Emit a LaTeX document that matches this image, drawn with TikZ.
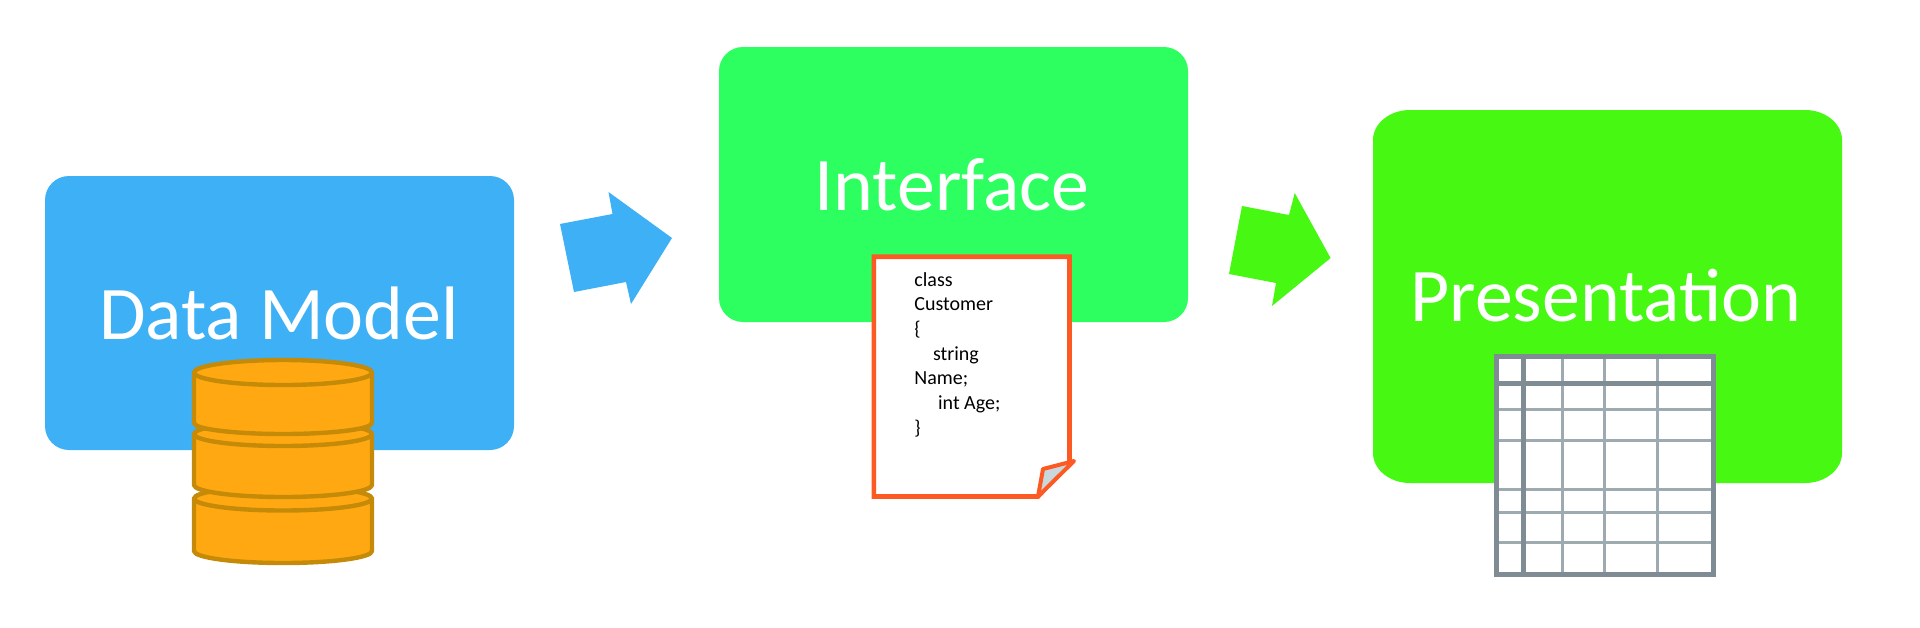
\documentclass[tikz,border=0pt]{standalone}
\usepackage{fontspec}
\setmainfont{Carlito}
\usetikzlibrary{positioning}
\definecolor{modelblue}{HTML}{3EB0F6}
\definecolor{ifacegreen}{HTML}{2CFF5F}
\definecolor{presgreen}{HTML}{46F812}
\definecolor{dbfill}{HTML}{FFA811}
\definecolor{dbline}{HTML}{C48A08}
\definecolor{docline}{HTML}{FC5A22}
\definecolor{foldfill}{HTML}{C8D8DC}
\definecolor{gridthick}{HTML}{7F8C93}
\definecolor{gridthin}{HTML}{9DABB0}
\tikzset{
	box/.style={rounded corners=12pt, inner sep=0pt},
	title/.style={anchor=base, text=white, inner sep=0pt, font=\fontsize{37.9}{45}\selectfont},
	codeline/.style={anchor=base west, text=black, inner sep=0pt, font=\fontsize{10}{12}\selectfont},
	disk/.style={draw=dbline, fill=dbfill, line width=2.2pt, line join=round},
	thickgrid/.style={draw=gridthick, line width=2.5pt},
	thingrid/.style={draw=gridthin, line width=1.5pt}
}
\begin{document}
\begin{tikzpicture}[x=0.5pt, y=-0.5pt]
	\useasboundingbox (0,0) rectangle (1920,627);

	\node[box, fill=modelblue, minimum width=234.5pt, minimum height=137pt] (model) at (279.5,313) {};
	\node[box, fill=ifacegreen, minimum width=234.5pt, minimum height=137.5pt] (iface) at (953.5,184.5) {};
	\fill[presgreen] (1373,140) arc[start angle=180, end angle=270, x radius=37, y radius=30] -- (1805,110)
		arc[start angle=270, end angle=360, x radius=37, y radius=30] -- (1842,453)
		arc[start angle=0, end angle=90, x radius=37, y radius=30] -- (1410,483)
		arc[start angle=90, end angle=180, x radius=37, y radius=30] -- cycle;

	\node[title] (modeltitle) at (279,339) {Data Model};
	\node[title] (ifacetitle) at (952,210) {Interface};
	\node[title] (prestitle) at (1606,321) {Presentation};

	% block arrows
	\fill[modelblue] (560,224) -- (612.5,214) -- (608.5,192) -- (672,238) -- (631,304) -- (626,282) -- (574,292) -- cycle;
	\fill[presgreen] (1242,206) -- (1289,215) -- (1294.7,193) -- (1330.6,258) -- (1272,306) -- (1276,283) -- (1229,274) -- cycle;

	% database
	\draw[disk] (194,498.5) -- (194,551) arc[start angle=180, end angle=0, x radius=89, y radius=12] -- (372,498.5)
		arc[start angle=0, end angle=-180, x radius=89, y radius=12] -- cycle;
	\draw[disk] (194,498.5) arc[start angle=180, end angle=0, x radius=89, y radius=12];
	\draw[disk] (194,434) -- (194,485) arc[start angle=180, end angle=0, x radius=89, y radius=12] -- (372,434)
		arc[start angle=0, end angle=-180, x radius=89, y radius=12] -- cycle;
	\draw[disk] (194,434) arc[start angle=180, end angle=0, x radius=89, y radius=12];
	\draw[disk] (194,372.5) -- (194,423) arc[start angle=180, end angle=0, x radius=89, y radius=11] -- (372,372.5)
		arc[start angle=0, end angle=-180, x radius=89, y radius=12.5] -- cycle;
	\draw[disk] (194,372.5) arc[start angle=180, end angle=0, x radius=89, y radius=12.5];

	% document
	\draw[draw=docline, fill=white, line width=2.3pt] (873.8,256.7) -- (1069.5,256.7) -- (1069.5,463) -- (1038,496.5) -- (873.8,496.5) -- cycle;
	\draw[draw=docline, fill=foldfill, line width=2pt, line join=round] (1043,469) -- (1074,461) -- (1038,496.5) -- cycle;

	\node[codeline] (c1) at (914,286) {class};
	\node[codeline] (c2) at (914,310.5) {Customer};
	\node[codeline] (c3) at (914,335) {\{};
	\node[codeline] (c4) at (932.7,360) {string};
	\node[codeline] (c5) at (914,384) {Name;};
	\node[codeline] (c6) at (937.7,409) {int Age;};
	\node[codeline] (c7) at (914,434) {\}};

	% table
	\fill[white] (1496,356.5) rectangle (1713,574);
	\draw[thingrid] (1562,356.5) -- (1562,574);
	\draw[thingrid] (1604.5,356.5) -- (1604.5,574);
	\draw[thingrid] (1657,356.5) -- (1657,574);
	\draw[thingrid] (1496,409) -- (1713,409);
	\draw[thingrid] (1496,440) -- (1713,440);
	\draw[thingrid] (1496,489) -- (1713,489);
	\draw[thingrid] (1496,512) -- (1713,512);
	\draw[thingrid] (1496,542) -- (1713,542);
	\draw[thickgrid] (1523,356.5) -- (1523,574);
	\draw[thickgrid] (1496,383) -- (1713,383);
	\draw[thickgrid] (1496,356.5) rectangle (1713,574);
\end{tikzpicture}
\end{document}
